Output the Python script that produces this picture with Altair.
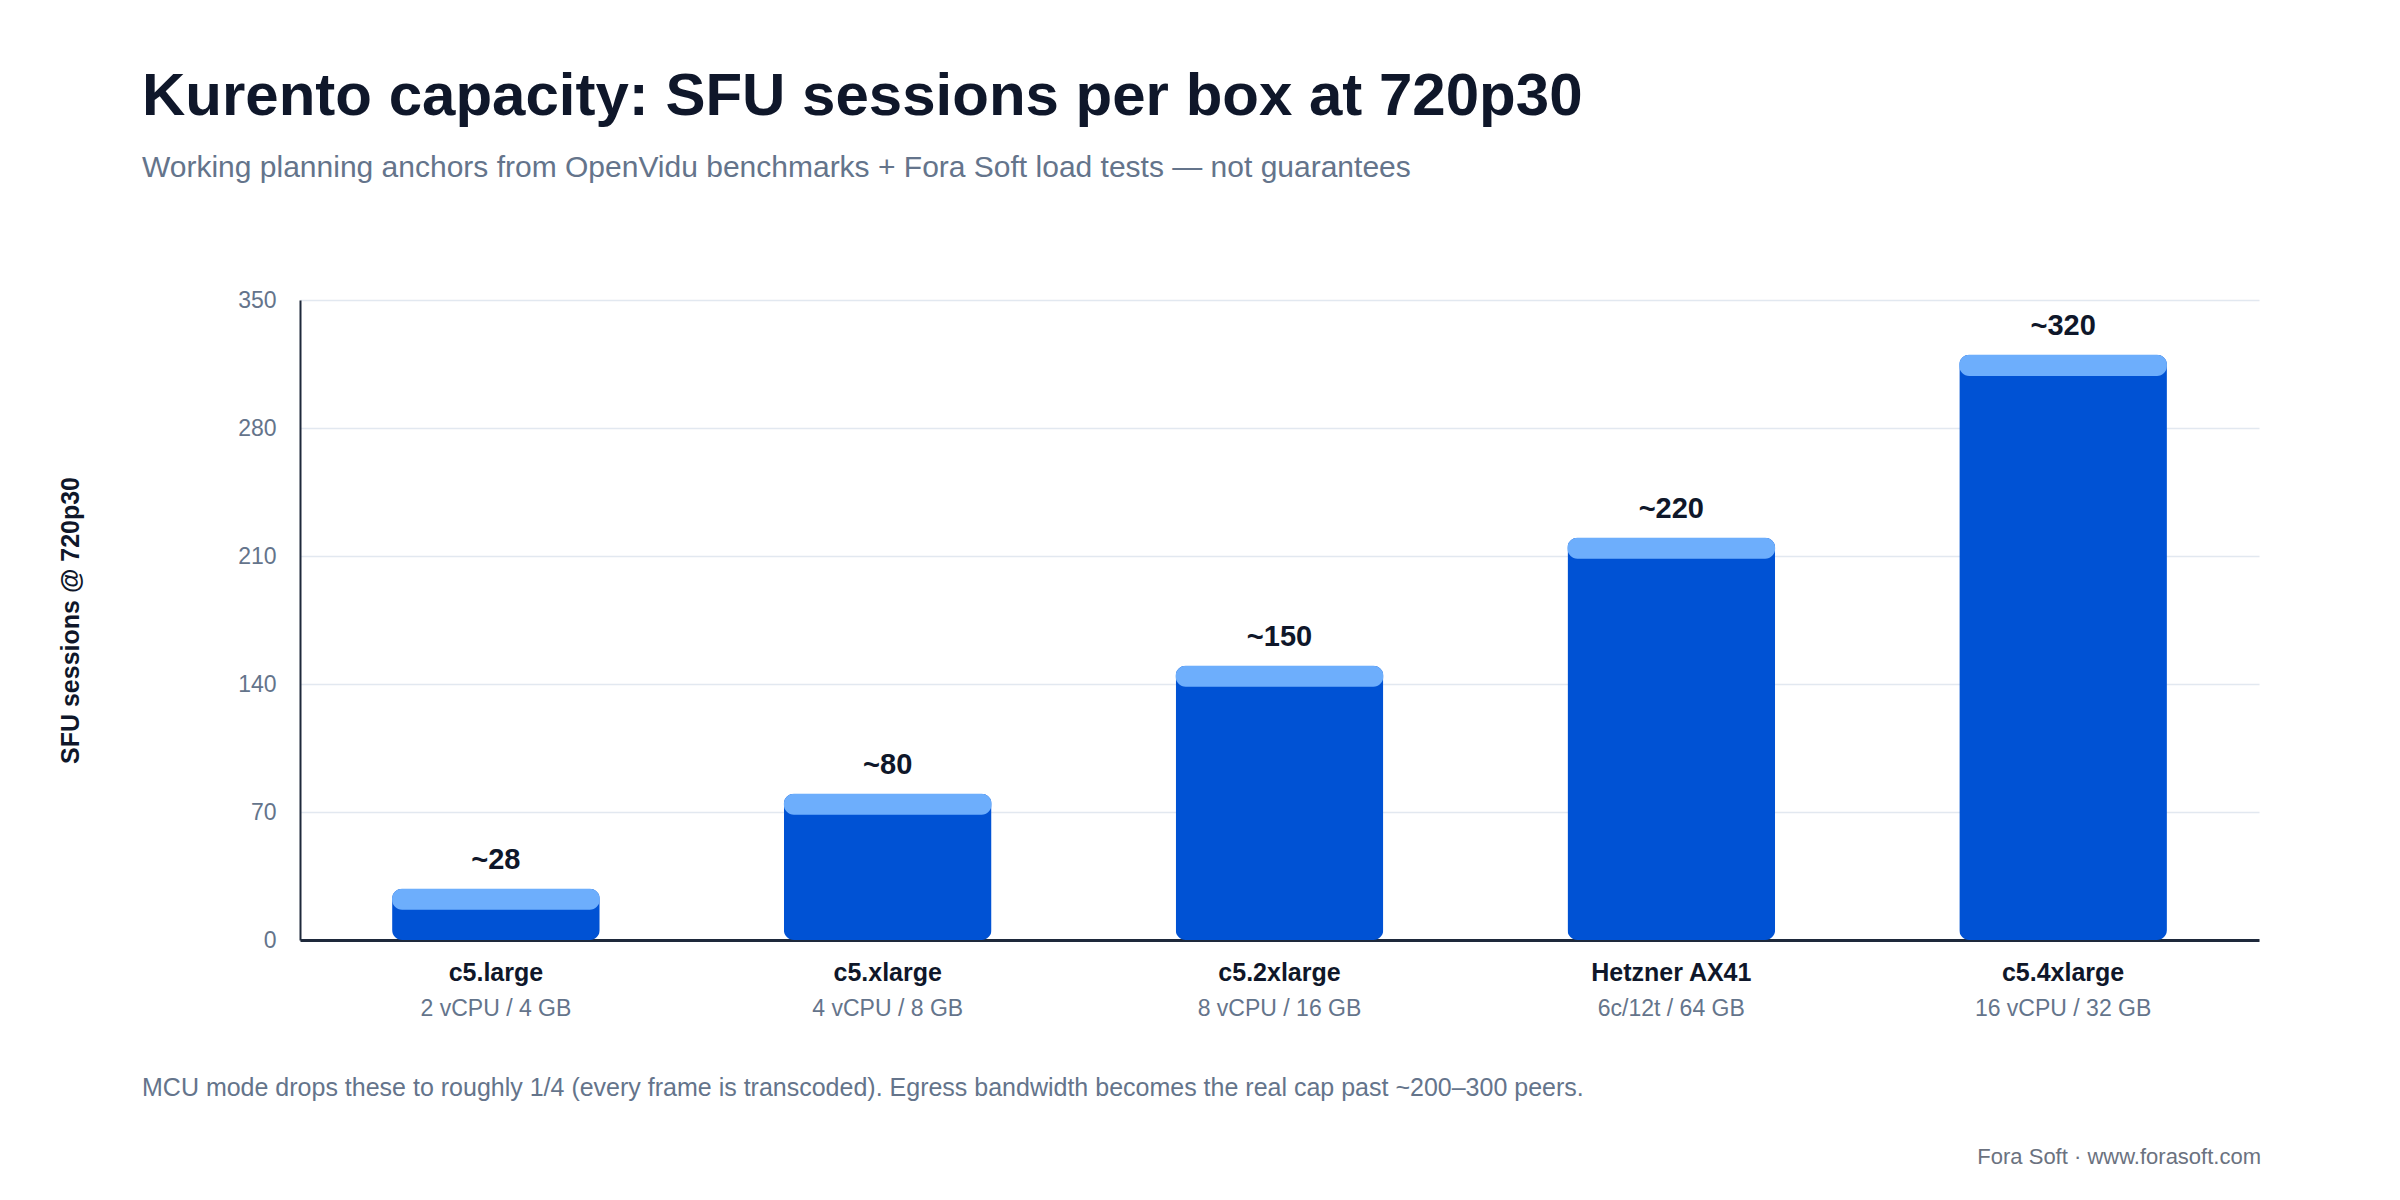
import altair as alt
import pandas as pd

# ---- data ----
instances = ["c5.large", "c5.xlarge", "c5.2xlarge", "Hetzner AX41", "c5.4xlarge"]
specs = ["2 vCPU / 4 GB", "4 vCPU / 8 GB", "8 vCPU / 16 GB", "6c/12t / 64 GB", "16 vCPU / 32 GB"]
sessions = [28, 80, 150, 220, 320]
value_labels = ["~28", "~80", "~150", "~220", "~320"]
y_ticks = [0, 70, 140, 210, 280, 350]

title_text = "Kurento capacity: SFU sessions per box at 720p30"
subtitle_text = "Working planning anchors from OpenVidu benchmarks + Fora Soft load tests \u2014 not guarantees"
footnote_text = "MCU mode drops these to roughly 1/4 (every frame is transcoded). Egress bandwidth becomes the real cap past ~200\u2013300 peers."
credit_text = "Fora Soft \u00b7 www.forasoft.com"
y_title = "SFU sessions @ 720p30"

CAP_UNITS = 11.5  # height of the light cap in data units

df = pd.DataFrame({
    "instance": instances,
    "spec": specs,
    "sessions": sessions,
    "label": value_labels,
})

FONT = "Liberation Sans"
DARK = "#0f172a"
GRAY = "#64748b"
BAR = "#0052d4"
CAP = "#6daefc"

W, H = 1959, 640
TEXT_X = -158

spec_map = "{" + ",".join(f"'{a}':'{b}'" for a, b in zip(instances, specs)) + "}"

xscale = alt.Scale(paddingInner=0.47, paddingOuter=0.235)
yscale = alt.Scale(domain=[0, 350], nice=False)

base = alt.Chart(df)

bars = base.mark_bar(color=BAR, cornerRadius=10).encode(
    x=alt.X("instance:N", sort=None, scale=xscale, title=None,
            axis=alt.Axis(orient="bottom", labelAngle=0, labelFont=FONT, labelFontSize=25,
                          labelFontWeight="bold", labelColor=DARK, labelPadding=20,
                          domain=True, domainColor="#1e293b", domainWidth=3, ticks=False, grid=False)),
    y=alt.Y("sessions:Q", scale=yscale, title=y_title,
            axis=alt.Axis(values=y_ticks, labelFont=FONT, labelFontSize=23, labelColor=GRAY,
                          labelPadding=24, ticks=False, domain=True, domainColor="#1e293b",
                          domainWidth=2, grid=True, gridColor="#e2e8f0", gridWidth=1.5,
                          titleFont=FONT, titleFontSize=25, titleFontWeight="bold",
                          titleColor=DARK, titlePadding=154)),
)

caps = base.transform_calculate(cap_bottom=f"datum.sessions - {CAP_UNITS}").mark_bar(
    color=CAP, cornerRadius=10
).encode(
    x=alt.X("instance:N", sort=None, scale=xscale, title=None,
            axis=alt.Axis(orient="bottom", labelAngle=0, labelFont=FONT, labelFontSize=23,
                          labelColor=GRAY, labelPadding=57, labelExpr=f"{spec_map}[datum.value]",
                          domain=False, ticks=False, grid=False)),
    y=alt.Y("sessions:Q", scale=yscale),
    y2="cap_bottom:Q",
)

texts = base.mark_text(font=FONT, fontSize=29, fontWeight="bold", color=DARK,
                       baseline="alphabetic", dy=-20).encode(
    x=alt.X("instance:N", sort=None, scale=xscale, axis=None),
    y=alt.Y("sessions:Q", scale=yscale),
    text="label:N",
)

note_df = pd.DataFrame({"t": [footnote_text]})
credit_df = pd.DataFrame({"t": [credit_text]})

footnote = alt.Chart(note_df).mark_text(font=FONT, fontSize=25, color=GRAY, align="left",
                                        baseline="alphabetic").encode(
    x=alt.value(TEXT_X), y=alt.value(796), text="t:N")

credit = alt.Chart(credit_df).mark_text(font=FONT, fontSize=22, color="#6b7280", align="right",
                                        baseline="alphabetic").encode(
    x=alt.value(1961), y=alt.value(864), text="t:N")

chart = alt.layer(bars, caps, texts, footnote, credit).resolve_axis(x="independent").properties(
    width=W, height=H,
    autosize=alt.AutoSizeParams(type="none"),
    padding={"left": 292, "top": 292, "right": 133, "bottom": 250},
    title=alt.TitleParams(text=title_text, subtitle=subtitle_text, anchor="start", frame="group",
                          dx=TEXT_X, font=FONT, fontSize=60, fontWeight="bold", color=DARK,
                          subtitleFont=FONT, subtitleFontSize=30, subtitleColor=GRAY,
                          subtitlePadding=25, offset=105),
).configure(background="white").configure_view(stroke=None)

chart.save("out.html", embed_options={"renderer": "svg", "actions": False})
